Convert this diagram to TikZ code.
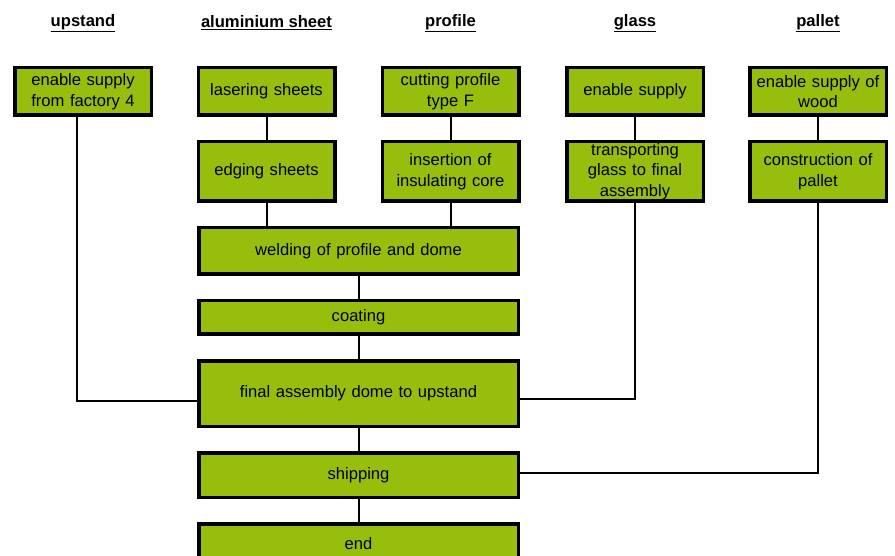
\documentclass[tikz,border=0pt]{standalone}
\usepackage{fontspec}
\setmainfont{Liberation Sans}
\usetikzlibrary{positioning,calc}
\definecolor{boxgreen}{RGB}{151,190,13}
\tikzset{
  task/.style={draw, line width=3.5pt, fill=boxgreen, inner sep=0pt, align=center,
    text width=132pt, minimum width=136.5pt, font=\fontsize{16.6}{20.5}\selectfont},
  widetask/.style={task, text width=310pt, minimum width=319.5pt},
  head/.style={font=\fontsize{16.6}{20}\selectfont\bfseries},
  link/.style={line width=2pt}
}
\begin{document}
\begin{tikzpicture}[x=1pt, y=-1pt, node distance=23pt]
\useasboundingbox (0,0) rectangle (895,556);
% column headings
\node[head] (hup) at (83,23) {\underline{upstand}};
\node[head] (hal) at (266.5,23) {\underline{aluminium sheet}};
\node[head] (hpr) at (450.5,23) {\underline{profile}};
\node[head] (hgl) at (635,23) {\underline{glass}};
\node[head] (hpa) at (818,23) {\underline{pallet}};
% first row
\node[task, minimum height=47.5pt] (up) at (83,91.5) {enable supply\\from factory 4};
\node[task, minimum height=47.5pt] (las) at (266.5,91.5) {lasering sheets};
\node[task, minimum height=47.5pt] (cut) at (450.5,91.5) {cutting profile\\type F};
\node[task, minimum height=47.5pt] (glass) at (635,91.5) {enable supply};
\node[task, minimum height=47.5pt] (wood) at (818,91.5) {enable supply of\\wood};
% second row
\node[task, minimum height=59.5pt, below=of las] (edge) {edging sheets};
\node[task, minimum height=59.5pt, below=of cut] (ins) {insertion of\\insulating core};
\node[task, minimum height=59.5pt, below=of glass] (trans) {transporting\\glass to final\\assembly};
\node[task, minimum height=59.5pt, below=of wood] (constr) {construction of\\pallet};
% main chain
\node[widetask, minimum height=46.5pt, below=of $(edge.south)!0.5!(ins.south)$, anchor=north] (weld) {welding of profile and dome};
\node[widetask, minimum height=33.5pt, below=of weld] (coat) {coating};
\node[widetask, minimum height=65.5pt, below=of coat] (final) {final assembly dome to upstand};
\node[widetask, minimum height=44.5pt, below=of final] (ship) {shipping};
\node[widetask, minimum height=40.5pt, below=of ship] (end) {end};
% connectors
\foreach \x/\y in {las/edge,cut/ins,glass/trans,wood/constr,weld/coat,coat/final,final/ship,ship/end}
  \draw[link] (\x) -- (\y);
\draw[link] (edge.south) -- (edge.south |- weld.north);
\draw[link] (ins.south) -- (ins.south |- weld.north);
\draw[link] ([xshift=-6pt]up.south) |- ([yshift=-7.5pt]final.west);
\draw[link] (trans.south) |- ([yshift=-5.5pt]final.east);
\draw[link] (constr.south) |- ([yshift=2pt]ship.east);
\end{tikzpicture}
\end{document}
